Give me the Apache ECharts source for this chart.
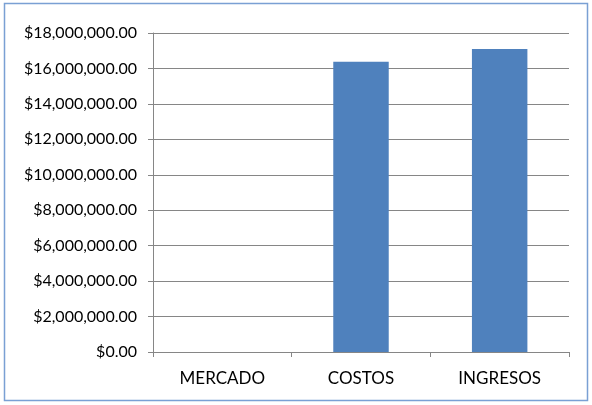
<!DOCTYPE html>
<html><head><meta charset="utf-8">
<script src="https://cdn.jsdelivr.net/npm/echarts@6/dist/echarts.min.js"></script>
<style>html,body{margin:0;padding:0;background:#fff}#c{width:592px;height:405px}</style>
</head><body><div id="c"></div>
<script>
const categories = ['MERCADO', 'COSTOS', 'INGRESOS'];
const values = [0, 16380000, 17100000];
const yMin = 0, yMax = 18000000, yStep = 2000000;

const fmt = v => '$' + v.toLocaleString('en-US', {minimumFractionDigits: 2, maximumFractionDigits: 2});
const chart = echarts.init(document.getElementById('c'), null, {renderer: 'canvas'});
chart.setOption({
  animation: false,
  backgroundColor: '#fff',
  graphic: [{type: 'rect', shape: {x: 4.5, y: 3.5, width: 583, height: 397}, style: {fill: 'none', stroke: '#7aa0d4', lineWidth: 1.5}, silent: true}],
  grid: {left: 153, right: 23, top: 33, bottom: 53},
  xAxis: {
    type: 'category', data: categories,
    axisLine: {lineStyle: {color: '#868686', width: 1}},
    axisTick: {show: true, length: 5, alignWithLabel: false, lineStyle: {color: '#868686'}},
    axisLabel: {color: '#000', fontFamily: 'Lato', fontSize: 17, margin: 18}
  },
  yAxis: {
    type: 'value', min: yMin, max: yMax, interval: yStep,
    axisLine: {show: true, lineStyle: {color: '#868686', width: 1}},
    axisTick: {show: true, length: 5, lineStyle: {color: '#868686'}},
    splitLine: {lineStyle: {color: '#868686', width: 1}},
    axisLabel: {color: '#000', fontFamily: 'Lato', fontSize: 16, margin: 16, formatter: fmt}
  },
  series: [{type: 'bar', data: values, barWidth: '40%', itemStyle: {color: '#4f81bd'}}]
});
</script></body></html>
